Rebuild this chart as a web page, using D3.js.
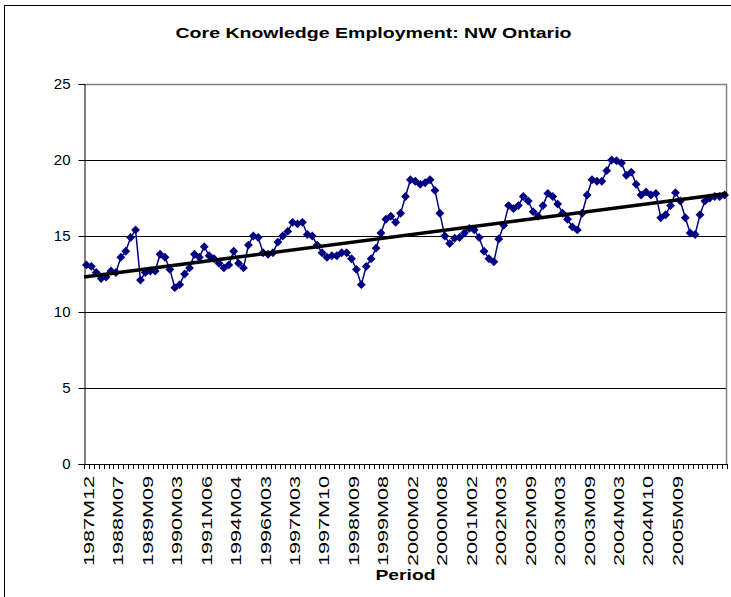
<!DOCTYPE html>
<html>
<head>
<meta charset="utf-8">
<script src="https://cdn.jsdelivr.net/npm/d3@7"></script>
<style>
  body { margin: 0; background: #fff; }
  text { font-family: "Liberation Sans", Arial, sans-serif; }
</style>
</head>
<body>
<div id="chart-area"></div>
<script>
// core knowledge employment (thousands)
let values = [
  13.1, 13.0, 12.6, 12.2, 12.3, 12.7, 12.6, 13.6, 14.0, 14.9,
  15.4, 12.1, 12.6, 12.7, 12.7, 13.8, 13.6, 12.8, 11.6, 11.8,
  12.5, 12.9, 13.8, 13.6, 14.3, 13.7, 13.5, 13.2, 12.9, 13.1,
  14.0, 13.2, 12.9, 14.4, 15.0, 14.9, 13.9, 13.8, 13.9, 14.6,
  15.0, 15.3, 15.9, 15.8, 15.9, 15.1, 15.0, 14.4, 13.9, 13.6,
  13.7, 13.7, 13.9, 13.9, 13.5, 12.8, 11.8, 13.0, 13.5, 14.2,
  15.2, 16.1, 16.3, 15.9, 16.5, 17.6, 18.7, 18.6, 18.4, 18.5,
  18.7, 18.0, 16.5, 15.0, 14.5, 14.85, 14.9, 15.2, 15.5, 15.4,
  14.9, 14.0, 13.5, 13.3, 14.8, 15.7, 17.0, 16.8, 17.0, 17.6,
  17.3, 16.6, 16.3, 17.0, 17.8, 17.6, 17.1, 16.5, 16.1, 15.6,
  15.4, 16.5, 17.7, 18.7, 18.6, 18.6, 19.3, 20.0, 19.95, 19.8,
  19.0, 19.2, 18.4, 17.7, 17.9, 17.7, 17.8, 16.2, 16.4, 17.0,
  17.85, 17.3, 16.2, 15.2, 15.1, 16.4, 17.3, 17.5, 17.6, 17.6,
  17.7
];

// linear trend as drawn: value at first and last category edge
let trend = [12.3, 17.8];

// only every 6th period is labelled on the axis
let tickLabels = [
  "1987M12", "1988M07", "1989M09", "1990M03", "1991M06", "1994M04",
  "1996M03", "1997M03", "1997M10", "1998M09", "1999M08", "2000M02",
  "2000M08", "2001M02", "2002M03", "2002M09", "2003M03", "2003M09",
  "2004M03", "2004M10", "2005M09"
];
let labelEvery = 6;

let yTicks = [0, 5, 10, 15, 20, 25];

let margin = { top: 84, right: 4, bottom: 133, left: 84 };
let width = 731 - margin.left - margin.right,
  height = 597 - margin.top - margin.bottom;

let svg = d3
  .select("#chart-area")
  .append("svg")
  .attr("width", 731)
  .attr("height", 597);

// outer chart border
svg.append("rect")
  .attr("x", 4.5)
  .attr("y", 5.5)
  .attr("width", 740)
  .attr("height", 600)
  .attr("fill", "none")
  .attr("stroke", "#000")
  .attr("stroke-width", 1);

// the original text is drawn wide, so stretch it to the measured length
svg.append("text")
  .attr("x", 373.5)
  .attr("y", 38)
  .attr("text-anchor", "middle")
  .attr("font-size", 14)
  .attr("font-weight", "bold")
  .attr("textLength", 396)
  .attr("lengthAdjust", "spacingAndGlyphs")
  .text("Core Knowledge Employment: NW Ontario");

let bigG = svg.append("g")
  .attr("transform", "translate(" + margin.left + "," + margin.top + ")");

let xScale = d3
  .scaleBand()
  .domain(d3.range(values.length))
  .range([0, width]);

let yScale = d3
  .scaleLinear()
  .domain([0, 25])
  .range([height, 0]);

// gridlines
bigG.selectAll(".grid")
  .data(yTicks.filter(d => d > 0 && d < 25))
  .enter()
  .append("line")
  .attr("x1", 0)
  .attr("x2", width)
  .attr("y1", d => Math.round(yScale(d)) + 0.5)
  .attr("y2", d => Math.round(yScale(d)) + 0.5)
  .attr("stroke", "#000")
  .attr("stroke-width", 1);

// plot area border (top + right, grey)
bigG.append("path")
  .attr("d", "M0," + (yScale(25) + 0.5) + "H" + (width - 0.5) + "V" + height)
  .attr("fill", "none")
  .attr("stroke", "#808080")
  .attr("stroke-width", 1.5);

// y axis
let yAxis = d3.axisLeft(yScale).tickValues(yTicks).tickSize(6).tickPadding(8);
let yG = bigG.append("g").attr("transform", "translate(0.5,0)").call(yAxis);
yG.select(".domain").attr("stroke", "#000");
yG.selectAll("text").attr("font-size", 15).attr("fill", "#000")
  .style("font-family", "'Liberation Sans', Arial, sans-serif");

// x axis: tick at each category boundary
bigG.append("line")
  .attr("x1", 0)
  .attr("x2", width)
  .attr("y1", height + 0.5)
  .attr("y2", height + 0.5)
  .attr("stroke", "#000");

bigG.selectAll(".xtick")
  .data(d3.range(values.length + 1))
  .enter()
  .append("line")
  .attr("x1", d => Math.round(d * xScale.step()) + 0.5)
  .attr("x2", d => Math.round(d * xScale.step()) + 0.5)
  .attr("y1", height)
  .attr("y2", height + 5)
  .attr("stroke", "#000");

bigG.selectAll(".xlabel")
  .data(tickLabels)
  .enter()
  .append("text")
  .attr("transform", function(d, i) {
    let x = xScale(i * labelEvery) + xScale.bandwidth() / 2 + 2;
    return "translate(" + x + "," + (height + 12) + ") rotate(-90)";
  })
  .attr("text-anchor", "end")
  .attr("dy", "0.36em")
  .attr("font-size", 15)
  .attr("textLength", 90)
  .attr("lengthAdjust", "spacingAndGlyphs")
  .text(d => d);

svg.append("text")
  .attr("x", 405.5)
  .attr("y", 580)
  .attr("text-anchor", "middle")
  .attr("font-size", 15)
  .attr("font-weight", "bold")
  .attr("textLength", 60)
  .attr("lengthAdjust", "spacingAndGlyphs")
  .text("Period");

// series line + diamond markers
let line = d3.line()
  .x((d, i) => xScale(i) + xScale.bandwidth() / 2)
  .y(d => yScale(d));

bigG.append("path")
  .datum(values)
  .attr("d", line)
  .attr("fill", "none")
  .attr("stroke", "#000080")
  .attr("stroke-width", 1.5);

bigG.selectAll(".marker")
  .data(values)
  .enter()
  .append("path")
  .attr("d", d3.symbol().type(d3.symbolDiamond2).size(50))
  .attr("transform", (d, i) => "translate(" + (xScale(i) + xScale.bandwidth() / 2) + "," + yScale(d) + ")")
  .attr("fill", "#000080");

// trend line spans the full plot width
bigG.append("line")
  .attr("x1", 0)
  .attr("x2", width)
  .attr("y1", yScale(trend[0]))
  .attr("y2", yScale(trend[1]))
  .attr("stroke", "#000")
  .attr("stroke-width", 3.5);
</script>
</body>
</html>
